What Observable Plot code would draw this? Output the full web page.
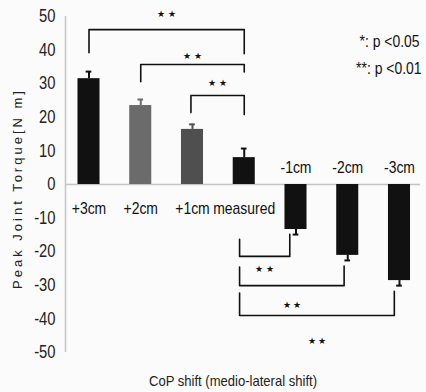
<!DOCTYPE html>
<html>
<head>
<meta charset="utf-8">
<script src="https://cdn.jsdelivr.net/npm/d3@7"></script>
<script src="https://cdn.jsdelivr.net/npm/@observablehq/plot@0.6"></script>
<style>
  html, body { margin: 0; padding: 0; background: #fbfbfb; }
  #chart svg { display: block; }
</style>
</head>
<body>
<div id="chart"></div>
<script>
// ---- data ----
const categories = ["+3cm", "+2cm", "+1cm", "measured", "-1cm", "-2cm", "-3cm"];
const torque     = [31.5, 23.5, 16.4, 8.0, -13.4, -21.1, -28.6];
const sdError    = [2.1, 1.8, 1.5, 2.7, 1.5, 1.5, 1.5];
const yTicks     = [50, 40, 30, 20, 10, 0, -10, -20, -30, -40, -50];
const comparisons = [
  {a: "+3cm", b: "measured", sig: "**"},
  {a: "+2cm", b: "measured", sig: "**"},
  {a: "+1cm", b: "measured", sig: "**"},
  {a: "measured", b: "-1cm", sig: "**"},
  {a: "measured", b: "-2cm", sig: "**"},
  {a: "measured", b: "-3cm", sig: "**"}
];
const legendLines = ["*: p <0.05", "**: p <0.01"];
const yLabel = "Peak Joint Torque[N m]";
const xLabel = "CoP shift (medio-lateral shift)";

// ---- styling / layout ----
const FONT = "'Liberation Sans', Arial, sans-serif";
const barColor = {"+3cm": "#111", "+2cm": "#6b6b6b", "+1cm": "#4f4f4f", "measured": "#111",
                  "-1cm": "#111", "-2cm": "#111", "-3cm": "#111"};
const halfBar = 0.213, halfCap = 0.055;

const bars = categories.map((c, i) => ({c, i, v: torque[i], e: sdError[i],
  tip: torque[i] + Math.sign(torque[i]) * sdError[i]}));
const idx = c => categories.indexOf(c);

// bracket geometry (in torque units) per comparison
const bracketLayout = [
  {level: 46.1, footA: 39.2, footB: 38.9, dxA: 0, dxB: 0, starY: 50.6},
  {level: 35.7, footA: 30.6, footB: 33.5, dxA: 0, dxB: 0, starY: 38.3},
  {level: 26.5, footA: 21.4, footB: 20.8, dxA: -0.03, dxB: 0, starY: 30.1},
  {level: -21.4, footA: -16.3, footB: -14.8, dxA: -0.09, dxB: -0.12, starY: -25.2},
  {level: -30.1, footA: -24.6, footB: -24.3, dxA: -0.09, dxB: -0.07, starY: -35.8},
  {level: -39.0, footA: -32.3, footB: -31.8, dxA: -0.09, dxB: -0.10, starY: -46.5}
];
const bracketLines = comparisons.flatMap((cmp, k) => {
  const L = bracketLayout[k];
  const xa = idx(cmp.a) + L.dxA, xb = idx(cmp.b) + L.dxB;
  return [
    {k, x: xa, y: L.footA}, {k, x: xa, y: L.level},
    {k, x: xb, y: L.level}, {k, x: xb, y: L.footB}
  ];
});
const stars = comparisons.map((cmp, k) => {
  const L = bracketLayout[k];
  return {x: (idx(cmp.a) + L.dxA + idx(cmp.b) + L.dxB) / 2, y: L.starY, t: "★ ★"};
});

const plot = Plot.plot({
  width: 426,
  height: 392,
  marginLeft: 65,
  marginRight: 6,
  marginTop: 16,
  marginBottom: 40,
  style: {background: "#fbfbfb", fontFamily: FONT, color: "#222"},
  x: {type: "linear", domain: [-0.454, 6.406], axis: null},
  y: {domain: [-50, 50]},
  marks: [
    Plot.ruleY([0], {stroke: "#c4c4c4", strokeWidth: 1.5}),
    Plot.ruleX([-0.454], {stroke: "#c4c4c4", strokeWidth: 1.5}),
    Plot.axisY({ticks: yTicks, tickFormat: d => String(d), tickSize: 0, tickPadding: 10,
      fontSize: 18, label: null, fill: "#222"}),
    Plot.rectY(bars, {x1: d => d.i - halfBar, x2: d => d.i + halfBar, y1: 0, y2: "v",
      fill: d => barColor[d.c]}),
    Plot.ruleX(bars, {x: "i", y1: "v", y2: "tip", stroke: d => barColor[d.c], strokeWidth: 2}),
    Plot.ruleY(bars, {x1: d => d.i - halfCap, x2: d => d.i + halfCap, y: "tip",
      stroke: d => barColor[d.c], strokeWidth: 2}),
    Plot.text(bars.filter(d => d.v >= 0), {x: "i", y: 0, text: "c", dy: 24.5,
      fontSize: 17, fill: "#111"}),
    Plot.text(bars.filter(d => d.v < 0), {x: "i", y: 0, text: "c", dy: -16.5,
      fontSize: 17, fill: "#111"}),
    Plot.line(bracketLines, {x: "x", y: "y", z: "k", stroke: "#111", strokeWidth: 1.6, curve: "linear"}),
    Plot.text(stars, {x: "x", y: "y", text: "t", fontSize: 9, fill: "#111"}),
    Plot.text([legendLines[0]], {frameAnchor: "top-right", text: d => d, textAnchor: "end",
      lineAnchor: "middle", dx: -1, dy: 25, fontSize: 17, fill: "#111"}),
    Plot.text([legendLines[1]], {frameAnchor: "top-right", text: d => d, textAnchor: "end",
      lineAnchor: "middle", dx: 1, dy: 52, fontSize: 17, fill: "#111"}),
    Plot.text([yLabel], {frameAnchor: "left", text: d => d, rotate: -90, textAnchor: "middle",
      dx: -48, dy: 4, fontSize: 13, fill: "#222"}),
    Plot.text([xLabel], {frameAnchor: "bottom", text: d => d, dy: 33, dx: -10,
      fontSize: 15, fill: "#222"})
  ]
});
document.getElementById("chart").appendChild(plot);
// Arial-Narrow-like look: squeeze glyphs horizontally
d3.select(plot).selectAll("text").each(function() {
  const t = this.textContent;
  if (t === yLabel) { this.setAttribute("letter-spacing", "3px"); return; }
  if (t === "★ ★") return;
  if (legendLines.includes(t)) {
    // squeeze around the right-hand anchor with a transform
    const x = +(this.getAttribute("x") || 0);
    const tr = this.getAttribute("transform") || "";
    this.setAttribute("transform", `${tr} translate(${x},0) scale(0.82,1) translate(${-x},0)`);
    return;
  }
  const f = t === xLabel ? 0.87 : 0.82;
  const len = this.getComputedTextLength();
  if (len > 0) {
    this.setAttribute("textLength", (len * f).toFixed(1));
    this.setAttribute("lengthAdjust", "spacingAndGlyphs");
  }
});
</script>
</body>
</html>
